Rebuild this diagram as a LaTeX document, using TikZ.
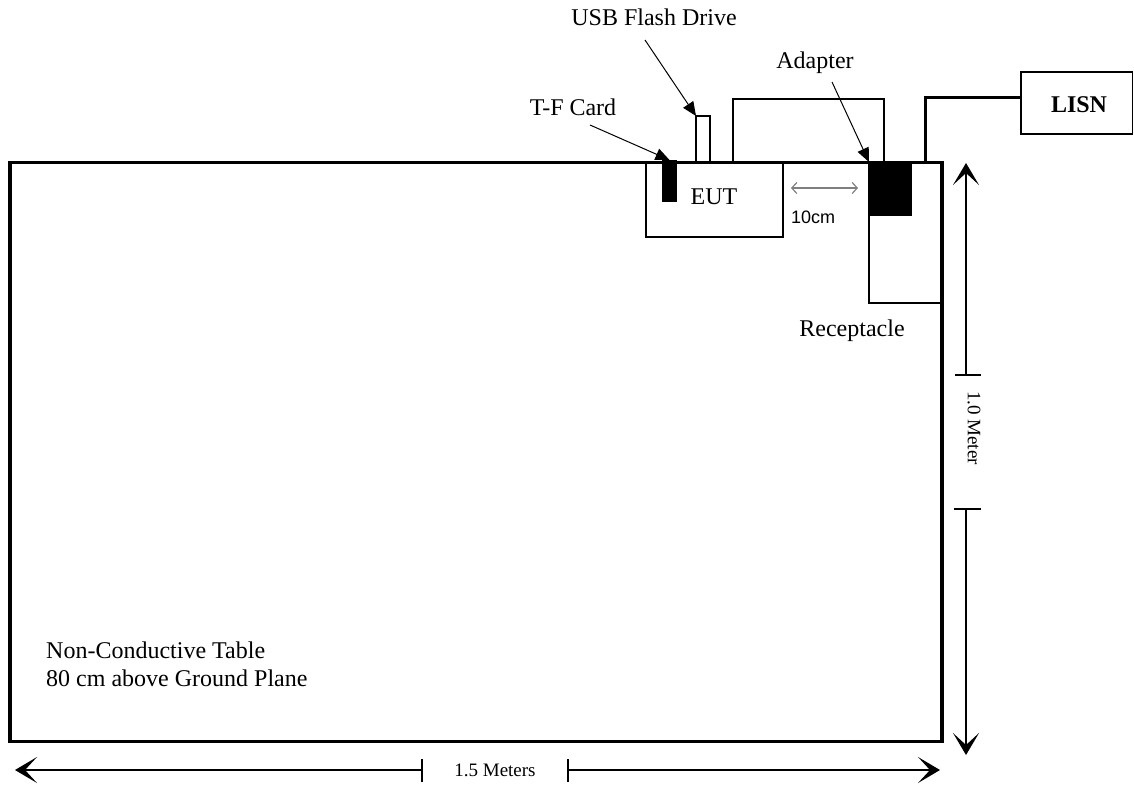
\documentclass[tikz,border=0pt]{standalone}
\usepackage{fontspec}
\setmainfont{Liberation Serif}
\newfontfamily\arialfont{Liberation Sans}
\usetikzlibrary{arrows.meta}
\begin{document}
\begin{tikzpicture}[x=1pt,y=-1pt,
  box/.style={draw, line width=1.2pt, inner sep=0pt, outer sep=0pt, anchor=north west},
  blk/.style={fill=black, draw=none, inner sep=0pt, outer sep=0pt, anchor=north west},
  lbl/.style={font=\fontsize{24}{29}\selectfont, inner sep=0pt, anchor=base},
  ptr/.style={line width=1pt, -{Triangle[length=14pt,width=12pt]}},
  dimarrow/.style={line width=1.4pt, -{Stealth[length=22pt,width=26pt,inset=12pt]}},
  tick/.style={line width=1.4pt},
  dimlbl/.style={font=\fontsize{19}{23}\selectfont, inner sep=0pt}]
\useasboundingbox (0,0) rectangle (1134,787);

% table
\node[box, line width=3.5pt, minimum width=932pt, minimum height=579pt] (table) at (10,162.5) {};

% EUT and parts
\node[box, minimum width=137pt, minimum height=74pt] (eut) at (646,163) {};
\node[lbl] (euttxt) at (714,204) {EUT};
\node[blk, minimum width=15pt, minimum height=42pt] (tf) at (662,160) {};
\node[box, minimum width=14pt, minimum height=46pt] (usb) at (696,116) {};

% cable loop from EUT to adapter
\coordinate (ca) at (733,162);
\coordinate (cb) at (884,162);
\draw[line width=1.2pt] (ca) |- (808,99) -| (cb);

% receptacle and adapter
\node[box, minimum width=73pt, minimum height=141pt] (recept) at (869,162) {};
\node[blk, minimum width=43pt, minimum height=54pt] (adapter) at (869,162) {};

% LISN
\node[box, minimum width=111.5pt, minimum height=62pt] (lisn) at (1021,72) {};
\node[lbl, font=\fontsize{24}{29}\selectfont\bfseries] (lisntxt) at (1079,112) {LISN};
\coordinate (lc) at (925,163);
\coordinate (lt) at (1021,97);
\draw[line width=3pt] (lc) |- (lt);

% labels and pointers
\node[lbl] (usbtxt) at (654,25) {USB Flash Drive};
\node[lbl] (adtxt) at (815,68) {Adapter};
\node[lbl] (tftxt) at (573,115) {T-F Card};
\node[lbl] (rectxt) at (852,336) {Receptacle};
\coordinate (usbS) at (645,40);
\coordinate (tfS) at (590,125);
\coordinate (adS) at (832,82);
\draw[ptr] (usbS) -- (usb.north west);
\draw[ptr] (tfS) -- (tf.north);
\draw[ptr] (adS) -- (adapter.north west);

% 10cm spacing
\coordinate (g1) at (791,188);
\coordinate (g2) at (858,188);
\draw[gray, line width=1.2pt, {Straight Barb[length=5pt,width=11pt]}-{Straight Barb[length=5pt,width=11pt]}] (g1) -- (g2);
\node[inner sep=0pt, anchor=base, font=\arialfont\fontsize{18}{22}\selectfont] (tencm) at (813,223) {10cm};

% table text
\node[lbl, anchor=base west] (nct1) at (46,658) {Non-Conductive Table};
\node[lbl, anchor=base west] (nct2) at (46,686) {80 cm above Ground Plane};

% vertical dimension
\coordinate (v1) at (966,375);
\coordinate (v1t) at (966,163);
\coordinate (v2) at (966,509);
\coordinate (v2t) at (966,755);
\draw[tick] (955,375) -- (981,375);
\draw[tick] (954,509) -- (981,509);
\draw[dimarrow] (v1) -- (v1t);
\draw[dimarrow] (v2) -- (v2t);
\node[dimlbl, rotate=-90] (vtxt) at (974,428) {1.0 Meter};

% horizontal dimension
\coordinate (h1) at (422,770);
\coordinate (h1t) at (15,770);
\coordinate (h2) at (568,770);
\coordinate (h2t) at (940,770);
\draw[tick] (422,759) -- (422,782);
\draw[tick] (568,759) -- (568,782);
\draw[dimarrow] (h1) -- (h1t);
\draw[dimarrow] (h2) -- (h2t);
\node[dimlbl, anchor=base] (htxt) at (495,776) {1.5 Meters};
\end{tikzpicture}
\end{document}
